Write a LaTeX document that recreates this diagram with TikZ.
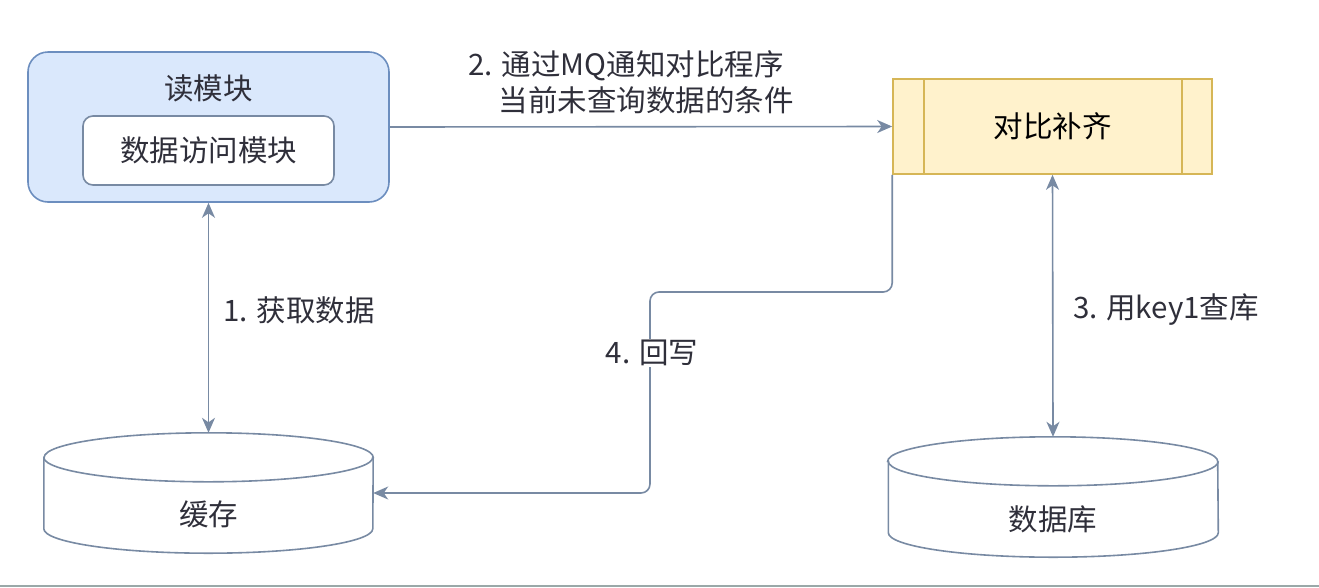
\documentclass[tikz,border=0pt]{standalone}
\usepackage{fontspec}
\setmainfont{Noto Sans CJK SC}
\usetikzlibrary{arrows.meta,calc}
\definecolor{bluefill}{HTML}{DAE8FC}
\definecolor{bluestroke}{HTML}{6C8EBF}
\definecolor{yelfill}{HTML}{FFF2CC}
\definecolor{yelstroke}{HTML}{D6B656}
\definecolor{conncol}{HTML}{788AA3}
\definecolor{txtcol}{HTML}{2F2F3A}
\definecolor{rulecol}{HTML}{9AA8A8}
\tikzset{
  txt/.style={font=\fontsize{29.5pt}{35pt}\selectfont, text=txtcol, inner sep=2pt},
  outerbox/.style={draw=bluestroke, fill=bluefill, line width=1.6pt, rounded corners=20pt, minimum width=361pt, minimum height=150pt, inner sep=0pt},
  innerbox/.style={draw=conncol, fill=white, line width=1.6pt, rounded corners=10pt, minimum width=251pt, minimum height=69pt, inner sep=0pt, font=\fontsize{29.5pt}{35pt}\selectfont, text=txtcol},
  procbox/.style={draw=yelstroke, fill=yelfill, line width=1.6pt, minimum width=319pt, minimum height=95pt, inner sep=0pt, font=\fontsize{29.5pt}{35pt}\selectfont, text=black},
  cylframe/.style={draw=none, minimum width=329pt, minimum height=120pt, inner sep=0pt},
  cylline/.style={draw=conncol, line width=1.6pt, fill=white},
  conn/.style={draw=conncol, line width=1.6pt},
  tip/.tip={Stealth[length=15pt, width=13pt, inset=4.5pt]},
}
\begin{document}
\begin{tikzpicture}[x=1pt, y=-1pt]
\useasboundingbox (0,0) rectangle (1319,587);
% bottom rule
\draw[rulecol, line width=1.5pt] (0,586) -- (1319,586);

% read module
\node[outerbox] (read) at (208.5,127) {};
\node[txt] (readlbl) at (208.5,88) {读模块};
\node[innerbox] (access) at (208.5,150.5) {数据访问模块};

% compare process
\node[procbox] (cmp) at (1052.5,126.5) {对比补齐};
\draw[yelstroke, line width=1.6pt] (cmp.north west) ++(32,0) coordinate (cl1) -- (cl1 |- cmp.south);
\draw[yelstroke, line width=1.6pt] (cmp.north east) ++(-31,0) coordinate (cr1) -- (cr1 |- cmp.south);

% cache cylinder
\node[cylframe] (cache) at (208.5,493) {};
\draw[cylline] (cache.north west) ++(0,24.5) coordinate (ca1)
  -- ($(cache.south west)+(0,-24.5)$) arc[start angle=180, end angle=0, x radius=164.5, y radius=24.5]
  -- ($(cache.north east)+(0,24.5)$) arc[start angle=0, end angle=-180, x radius=164.5, y radius=24.5] -- cycle;
\draw[cylline, fill=none] (ca1) arc[start angle=180, end angle=0, x radius=164.5, y radius=24.5];
\node[txt] (cachelbl) at (208.5,514) {缓存};

% database cylinder
\node[cylframe] (db) at (1053,497) {};
\draw[cylline] (db.north west) ++(0,24.5) coordinate (da1)
  -- ($(db.south west)+(0,-24.5)$) arc[start angle=180, end angle=0, x radius=165, y radius=24.5]
  -- ($(db.north east)+(0,24.5)$) arc[start angle=0, end angle=-180, x radius=165, y radius=24.5] -- cycle;
\draw[cylline, fill=none] (da1) arc[start angle=180, end angle=0, x radius=165, y radius=24.5];
\node[txt] (dblbl) at (1053,519) {数据库};

% connectors
\draw[conn, -tip] (read.east) -- (cmp.west);
\draw[conn, tip-tip] (read.south) -- (cache.north);
\draw[conn, tip-tip] (cmp.south) -- (db.north);
\coordinate (w1) at (650,292);
\draw[conn, -tip, rounded corners=9pt] (cmp.south west) |- (w1) |- (cache.east);

% labels
\node[txt] (l2a) at (626,66) {2. 通过MQ通知对比程序};
\node[txt] (l2b) at (646,100) {当前未查询数据的条件};
\node[txt] (l1) at (299,310) {1. 获取数据};
\node[txt] (l3) at (1166,310) {3. 用key1查库};
\node[txt, fill=white, inner sep=1pt] (l4) at (652,353) {4. 回写};
\end{tikzpicture}
\end{document}
